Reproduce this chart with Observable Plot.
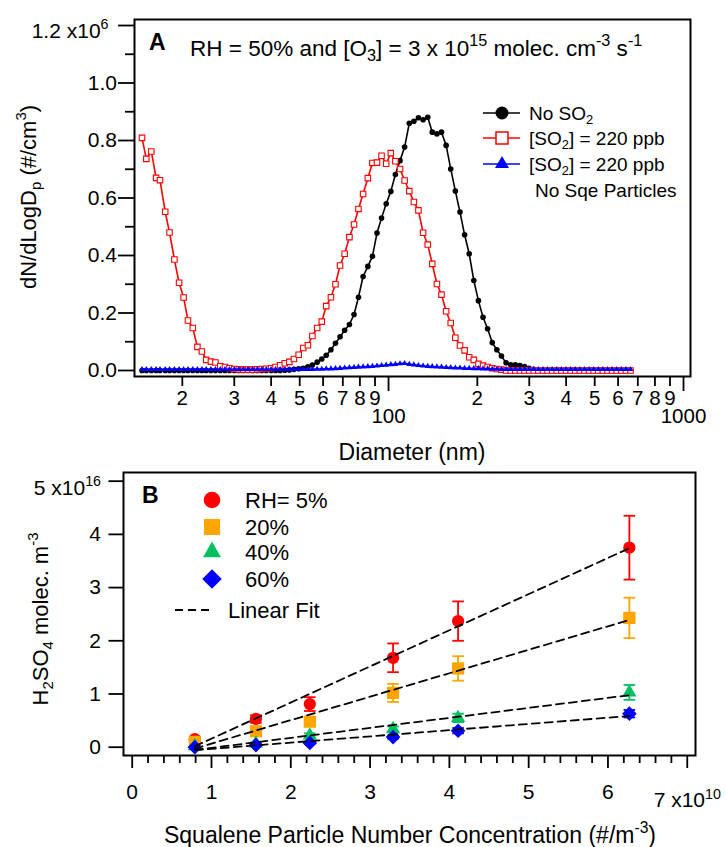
<!DOCTYPE html>
<html><head><meta charset="utf-8">
<script src="https://cdn.jsdelivr.net/npm/d3@7"></script>
<script src="https://cdn.jsdelivr.net/npm/@observablehq/plot@0.6"></script>
<style>
html,body{margin:0;padding:0;background:#fff;}
#chart{width:726px;height:847px;overflow:hidden;}
#chart svg{display:block;}
</style></head><body><div id="chart"></div>
<script>
const FONT = "'Liberation Sans', Arial, Helvetica, sans-serif";

// ---------- Panel A: size distributions (dN/dLogDp, units of 10^6 #/cm^3) ----------
const diameterNm = [14.6,15.1,15.7,16.3,16.8,17.5,18.1,18.8,19.5,20.2,20.9,21.7,22.5,23.3,24.1,25.0,25.9,26.9,27.9,28.9,30.0,31.1,32.2,33.4,34.6,35.9,37.2,38.5,40.0,41.4,42.9,44.5,46.1,47.8,49.6,51.4,53.3,55.2,57.3,59.4,61.5,63.8,66.1,68.5,71.0,73.7,76.4,79.1,82.0,85.1,88.2,91.4,94.7,98.2,101.8,105.5,109.4,113.4,117.6,121.9,126.3,131.0,135.8,140.7,145.9,151.2,156.8,162.5,168.5,174.7,181.1,187.7,194.6,201.7,209.1,216.7,224.7,232.9,241.4,250.3,259.5,269.0,278.8,289.0,299.6,310.6,322.0,333.8,346.0,358.7,371.8,385.4,399.5,414.2,429.4,445.1,461.4,478.3,495.8,514.0,532.8,552.3,572.5,593.5,615.3,637.8,661.2];

const noSO2 = [0,0,0,0,0,0,0,0,0,0,0,0,0,0,0,0,0,0,0,0,0,0,0,0,0,0,0,0,0,0,0,
  0.001,0.002,0.004,0.006,0.008,0.013,0.019,0.029,0.040,0.053,0.072,0.095,0.117,0.140,0.160,0.195,0.255,0.327,0.362,0.397,0.478,0.530,0.580,0.623,0.682,0.730,0.777,0.860,0.867,0.879,0.872,0.881,0.829,0.823,0.829,0.783,0.701,0.624,0.551,0.472,0.406,0.313,0.243,0.185,0.145,0.097,0.072,0.050,0.027,0.020,0.020,0.017,0.014,0.008,0.004,
  0,0,0,0,0,0,0,0,0,0,0,0,0,0,0,0,0,0,0,0,0];

const so2 = [0.809,0.736,0.762,0.670,0.662,0.552,0.480,0.386,0.305,0.254,0.174,0.148,0.082,0.066,0.037,0.031,0.028,0.015,0.012,0.008,0.005,0.004,0.003,0.003,0.003,0.004,0.005,0.006,0.008,0.012,0.018,0.025,0.030,0.040,0.055,0.078,0.088,0.120,0.148,0.170,0.224,0.255,0.300,0.365,0.406,0.464,0.508,0.562,0.614,0.669,0.722,0.723,0.747,0.719,0.756,0.728,0.701,0.661,0.624,0.586,0.557,0.479,0.438,0.371,0.301,0.264,0.206,0.165,0.114,0.087,0.070,0.046,0.037,0.023,0.017,0.012,0.008,0.005,0.003,
  0,0,0,0,0,0,0,0,0,0,0,0,0,0,0,0,0,0,0,0,0,0,0,0,0,0,0,0];

const so2NoSqe = [0.004,0.004,0.004,0.004,0.004,0.004,0.004,0.004,0.004,0.004,0.004,0.004,0.004,0.004,0.004,0.004,0.004,0.004,0.004,0.004,0.004,0.004,0.004,0.004,0.004,0.004,0.004,0.004,0.004,0.004,0.004,0.004,0.004,0.004,0.004,0.004,0.004,0.004,
  0.005,0.005,0.006,0.006,0.007,0.008,0.009,0.010,0.011,0.012,0.013,0.014,0.015,0.016,0.018,0.019,0.021,0.022,0.024,0.025,0.022,0.020,0.018,0.016,0.015,0.014,0.013,0.012,0.011,0.010,0.009,0.009,0.008,0.008,0.007,0.007,0.006,0.006,0.005,0.005,
  0.004,0.004,0.004,0.004,0.004,0.004,0.004,0.004,0.004,0.004,0.004,0.004,0.004,0.004,0.004,0.004,0.004,0.004,0.004,0.004,0.004,0.004,0.004,0.004,0.004,0.004,0.004,0.004,0.004];

const yTicksA = [0, 0.2, 0.4, 0.6, 0.8, 1.0];
const yTopTickA = [1.2];
const yMinorA = [0.1, 0.3, 0.5, 0.7, 0.9, 1.1];
const xMinorA = [20,30,40,50,60,70,80,90,200,300,400,500,600,700,800,900];
const xMinorLabelsA = ["2","3","4","5","6","7","8","9","2","3","4","5","6","7","8","9"];
const xMajorA = [100, 1000];

// ---------- Panel B: H2SO4 vs squalene particle number (x: 10^10 #/m^3, y: 10^16 molec/m^3) ----------
const seriesB = ["RH= 5%", "20%", "40%", "60%"];
const colorsB = ["#ff0000", "#ffa500", "#00c060", "#0000ff"];
const concB = [0.79, 1.56, 2.24, 3.29, 4.11, 6.27];
const h2so4RH5  = [0.15, 0.53, 0.81, 1.68, 2.37, 3.75];
const errRH5    = [0.04, 0.07, 0.13, 0.27, 0.37, 0.60];
const h2so4RH20 = [0.10, 0.30, 0.48, 1.02, 1.48, 2.43];
const errRH20   = [0.03, 0.05, 0.08, 0.17, 0.23, 0.38];
const h2so4RH40 = [0.02, 0.07, 0.22, 0.34, 0.55, 1.03];
const errRH40   = [0.01, 0.02, 0.04, 0.05, 0.08, 0.14];
const h2so4RH60 = [0.00, 0.04, 0.08, 0.19, 0.31, 0.63];
const errRH60   = [0.01, 0.01, 0.02, 0.03, 0.05, 0.07];
const xTicksB = [0, 1, 2, 3, 4, 5, 6];
const xLastTickB = [7];
const yTicksB = [0, 1, 2, 3, 4];
const yTopTickB = [5];

// ---------- helpers ----------
const NS = "http://www.w3.org/2000/svg";
function setRich(el, str, fs, supRatio = 0.68) {
  const parts = str.split(/(\^\{[^}]*\}|_\{[^}]*\})/).filter(s => s !== "");
  el.textContent = "";
  let shift = 0;
  for (const p of parts) {
    let target = 0, content = p, small = false;
    if (p.startsWith("^{")) { target = -0.42 * fs; content = p.slice(2, -1); small = true; }
    else if (p.startsWith("_{")) { target = 0.24 * fs; content = p.slice(2, -1); small = true; }
    const t = document.createElementNS(NS, "tspan");
    if (target - shift !== 0) t.setAttribute("dy", (target - shift).toFixed(2));
    if (small) t.setAttribute("font-size", (supRatio * fs).toFixed(2));
    t.textContent = content;
    el.appendChild(t);
    shift = target;
  }
}
function richify(svg, fs) {
  svg.querySelectorAll("text").forEach(t => {
    const s = t.textContent;
    if (/[\^_]\{/.test(s)) setRich(t, s, fs);
  });
}
function addText(svg, {x, y, text, fs, anchor = "start", weight = "normal", rotate = 0, supRatio = 0.68}) {
  const t = document.createElementNS(NS, "text");
  t.setAttribute("transform", `translate(${x},${y})` + (rotate ? ` rotate(${rotate})` : ""));
  t.setAttribute("y", (0.35 * fs).toFixed(2));
  t.setAttribute("font-size", fs);
  t.setAttribute("font-family", FONT);
  t.setAttribute("font-weight", weight);
  t.setAttribute("text-anchor", anchor);
  t.setAttribute("fill", "black");
  setRich(t, text, fs, supRatio);
  svg.appendChild(t);
  return t;
}
function addPath(svg, attrs) {
  const p = document.createElementNS(NS, "path");
  for (const k in attrs) p.setAttribute(k, attrs[k]);
  svg.appendChild(p);
  return p;
}

// ---------- Panel A ----------
const dataA = diameterNm.map((d, i) => ({d, noSO2: noSO2[i], so2: so2[i], blank: so2NoSqe[i]}));
const axisStyle = {fontSize: 21, strokeWidth: 1.8, label: null};
const frameHA = 465 - 19 - 89; // plot-area height, used for tick insets below the frame

const plotA = Plot.plot({
  width: 726, height: 465,
  marginLeft: 134, marginRight: 36, marginTop: 19, marginBottom: 89,
  x: {type: "log", domain: [13.77, 1056], axis: null},
  y: {domain: [-0.0209, 1.2209]},
  style: {fontFamily: FONT, fontSize: "21px", color: "black", background: "white", overflow: "visible"},
  marks: [
    Plot.line(dataA, {x: "d", y: "noSO2", stroke: "black", strokeWidth: 1.6}),
    Plot.dot(dataA, {x: "d", y: "noSO2", fill: "black", r: 2.8}),
    Plot.line(dataA, {x: "d", y: "so2", stroke: "#ff0000", strokeWidth: 1.6}),
    Plot.dot(dataA, {x: "d", y: "so2", symbol: "square", r: 3.1, stroke: "#ff0000", fill: "white", strokeWidth: 1.1}),
    Plot.line(dataA, {x: "d", y: "blank", stroke: "#0000ff", strokeWidth: 1.6}),
    Plot.dot(dataA, {x: "d", y: "blank", symbol: "triangle", r: 2.2, fill: "#0000ff"}),
    Plot.frame({stroke: "black", strokeWidth: 2}),
    Plot.axisY(yTicksA, {...axisStyle, tickSize: 16, tickPadding: 1.5, tickFormat: d => d.toFixed(1)}),
    Plot.axisY(yTopTickA, {...axisStyle, tickSize: 16, tickFormat: () => ""}),
    Plot.axisY(yTopTickA, {...axisStyle, tickSize: 0, tickPadding: 26, dy: 6, tickFormat: d => d.toFixed(1) + " x10^{6}"}),
    Plot.axisY(yMinorA, {...axisStyle, tickSize: 9, tickFormat: () => ""}),
    // log x axis: ticks hang below the frame
    Plot.ruleX(xMinorA, {x: d => d, insetTop: frameHA + 1, insetBottom: -10, stroke: "black", strokeWidth: 1.8}),
    Plot.ruleX(xMajorA, {x: d => d, insetTop: frameHA + 1, insetBottom: -15, stroke: "black", strokeWidth: 1.8}),
    Plot.text(xMinorA, {x: d => d, text: (d, i) => xMinorLabelsA[i], frameAnchor: "bottom", lineAnchor: "top", dy: 14, fontSize: 20.5}),
    Plot.text(xMajorA, {x: d => d, text: d => String(d), frameAnchor: "bottom", lineAnchor: "top", dy: 32, fontSize: 20.5})
  ]
});
richify(plotA, 21);

// titles / legend A
addText(plotA, {x: 149, y: 42, text: "A", fs: 23, weight: "bold"});
addText(plotA, {x: 190, y: 48, text: "RH = 50% and [O_{3}] = 3 x 10^{15} molec. cm^{-3} s^{-1}", fs: 22.5, supRatio: 0.72});
addText(plotA, {x: 412, y: 452, text: "Diameter (nm)", fs: 23, anchor: "middle"});
addText(plotA, {x: 28, y: 197, text: "dN/dLogD_{p} (#/cm^{3})", fs: 22, anchor: "middle", rotate: -90});

const legendA = [
  {label: "No SO_{2}", color: "black", sym: d3.symbolCircle, size: Math.PI * 6.5 * 6.5, fill: "black", stroke: "none", y: 113},
  {label: "[SO_{2}] = 220 ppb", color: "#ff0000", sym: d3.symbolSquare, size: 144, fill: "white", stroke: "#ff0000", y: 138},
  {label: "[SO_{2}] = 220 ppb", color: "#0000ff", sym: d3.symbolTriangle, size: 85, fill: "#0000ff", stroke: "none", y: 164}
];
for (const L of legendA) {
  addPath(plotA, {d: `M483,${L.y}H520`, stroke: L.color, "stroke-width": 1.6, fill: "none"});
  addPath(plotA, {d: d3.symbol(L.sym, L.size)(), transform: `translate(502,${L.y})`, fill: L.fill, stroke: L.stroke, "stroke-width": 1.5});
  addText(plotA, {x: 529, y: L.y, text: L.label, fs: 19});
}
addText(plotA, {x: 535, y: 190, text: "No Sqe Particles", fs: 19});

// ---------- Panel B ----------
const yB = [h2so4RH5, h2so4RH20, h2so4RH40, h2so4RH60];
const eB = [errRH5, errRH20, errRH40, errRH60];
const symB = ["circle", "square", "triangle", "diamond2"];
const rB = [6.15, 6.9, 5.3, 6.6];
const rowsB = seriesB.map((s, k) => concB.map((x, i) => ({series: s, x, y: yB[k][i], e: eB[k][i]})));
const capSymbol = {draw(ctx) { ctx.moveTo(-5.8, 0); ctx.lineTo(5.8, 0); }};

const marksB = [];
rowsB.forEach((rows, k) => {
  marksB.push(Plot.ruleX(rows, {x: "x", y1: d => d.y - d.e, y2: d => d.y + d.e, stroke: colorsB[k], strokeWidth: 1.8}));
  marksB.push(Plot.dot(rows, {x: "x", y: d => d.y + d.e, symbol: capSymbol, stroke: colorsB[k], strokeWidth: 1.8, fill: "none"}));
  marksB.push(Plot.dot(rows, {x: "x", y: d => d.y - d.e, symbol: capSymbol, stroke: colorsB[k], strokeWidth: 1.8, fill: "none"}));
});
rowsB.forEach((rows, k) => {
  marksB.push(Plot.dot(rows, {x: "x", y: "y", symbol: symB[k], r: rB[k], fill: colorsB[k]}));
});
rowsB.forEach((rows) => {
  marksB.push(Plot.linearRegressionY(rows, {x: "x", y: "y", ci: 0, stroke: "black", strokeWidth: 1.8, strokeDasharray: "8,5"}));
});
const minorB = d3.range(0.2, 7, 0.2).filter(v => Math.abs(v - Math.round(v)) > 1e-6);

const plotB = Plot.plot({
  width: 726, height: 382,
  marginLeft: 123, marginRight: 31, marginTop: 7, marginBottom: 92,
  x: {domain: [-0.1097, 7.104]},
  y: {domain: [-0.156, 5.163]},
  style: {fontFamily: FONT, fontSize: "21px", color: "black", background: "white", overflow: "visible"},
  marks: [
    ...marksB,
    Plot.frame({stroke: "black", strokeWidth: 2}),
    Plot.axisY(yTicksB, {...axisStyle, tickSize: 14.5, tickPadding: 8, tickFormat: d => String(d)}),
    Plot.axisY(yTopTickB, {...axisStyle, tickSize: 14.5, tickFormat: () => ""}),
    Plot.axisY(yTopTickB, {...axisStyle, tickSize: 0, tickPadding: 22.5, dy: 7, tickFormat: d => d + " x10^{16}"}),
    Plot.axisX(xTicksB, {...axisStyle, tickSize: 13, tickPadding: 16, tickFormat: d => String(d)}),
    Plot.axisX(xLastTickB, {...axisStyle, tickSize: 13, tickFormat: () => ""}),
    Plot.axisX(xLastTickB, {...axisStyle, tickSize: 0, tickPadding: 37, tickFormat: d => d + " x10^{10}"}),
    Plot.axisX(minorB, {...axisStyle, tickSize: 8, tickFormat: () => ""})
  ]
});
richify(plotB, 21);

addText(plotB, {x: 142, y: 30, text: "B", fs: 23, weight: "bold"});
addText(plotB, {x: 40, y: 154, text: "H_{2}SO_{4} molec. m^{-3}", fs: 22, anchor: "middle", rotate: -90});
addText(plotB, {x: 410, y: 370, text: "Squalene Particle Number Concentration (#/m^{-3})", fs: 23, anchor: "middle"});

const legSym = [d3.symbolCircle, d3.symbolSquare, d3.symbolTriangle, d3.symbolDiamond2];
const legSize = [216, 256, 140, 242];
const legY = [35, 62, 87, 114];
seriesB.forEach((s, k) => {
  addPath(plotB, {d: d3.symbol(legSym[k], legSize[k])(), transform: `translate(212,${legY[k]})`, fill: colorsB[k]});
  addText(plotB, {x: 245, y: legY[k], text: s, fs: 22});
});
addPath(plotB, {d: "M175,145H213", stroke: "black", "stroke-width": 1.8, "stroke-dasharray": "8,5", fill: "none"});
addText(plotB, {x: 228, y: 145, text: "Linear Fit", fs: 22});

const chart = document.getElementById("chart");
chart.appendChild(plotA);
chart.appendChild(plotB);
</script></body></html>
